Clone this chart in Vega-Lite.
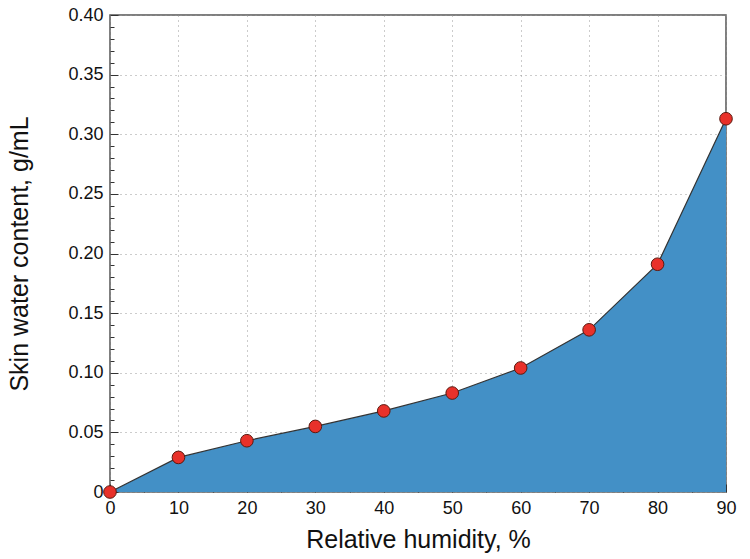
{
  "$schema": "https://vega.github.io/schema/vega-lite/v6.json",
  "autosize": {"type": "none"},
  "padding": {"left": 110, "top": 15, "right": 24, "bottom": 67},
  "width": 616,
  "height": 477,
  "config": {
    "font": "Liberation Sans",
    "view": {"stroke": "#555555", "strokeWidth": 1.5},
    "axis": {"labelFont": "Liberation Sans", "titleFont": "Liberation Sans", "labelColor": "#111", "titleColor": "#111"}
  },
  "data": {
    "values": [
      {"rh": 0, "water": 0},
      {"rh": 10, "water": 0.029},
      {"rh": 20, "water": 0.043},
      {"rh": 30, "water": 0.055},
      {"rh": 40, "water": 0.068},
      {"rh": 50, "water": 0.083},
      {"rh": 60, "water": 0.104},
      {"rh": 70, "water": 0.136},
      {"rh": 80, "water": 0.191},
      {"rh": 90, "water": 0.313}
    ]
  },
  "resolve": {"axis": {"x": "independent", "y": "independent"}},
  "layer": [
    {
      "mark": {"type": "area", "color": "#4390c6", "opacity": 1, "line": {"color": "#333333", "strokeWidth": 1.2}},
      "encoding": {
        "x": {"field": "rh", "type": "quantitative", "scale": {"domain": [0, 90], "nice": false},
          "axis": {"orient": "bottom", "values": [0, 10, 20, 30, 40, 50, 60, 70, 80, 90], "title": "Relative humidity, %",
            "titleFontSize": 25, "titleFontWeight": "normal", "titlePadding": 10, "labelFontSize": 18, "labelPadding": 15,
            "tickSize": -8, "tickColor": "#333", "domain": false, "grid": true, "gridDash": [1, 4], "gridColor": "#999", "labelFlush": false}},
        "y": {"field": "water", "type": "quantitative", "scale": {"domain": [0, 0.4], "nice": false},
          "axis": {"orient": "left", "values": [0, 0.05, 0.1, 0.15, 0.2, 0.25, 0.3, 0.35, 0.4], "title": "Skin water content, g/mL",
            "labelExpr": "datum.value == 0 ? '0' : format(datum.value, '.2f')",
            "titleFontSize": 25, "titleFontWeight": "normal", "titlePadding": 35, "labelFontSize": 18, "labelPadding": 15,
            "tickSize": -8, "tickColor": "#333", "domain": false, "grid": true, "gridDash": [1, 4], "gridColor": "#999", "labelFlush": false}}
      }
    },
    {
      "mark": {"type": "circle", "size": 160, "color": "#e8312a", "stroke": "#5a1a10", "strokeWidth": 1, "opacity": 1},
      "encoding": {
        "x": {"field": "rh", "type": "quantitative",
          "axis": {"orient": "bottom", "values": [5, 15, 25, 35, 45, 55, 65, 75, 85], "labels": false, "title": null,
            "tickSize": -4, "tickColor": "#333", "domain": false, "grid": false}},
        "y": {"field": "water", "type": "quantitative",
          "axis": {"orient": "left", "values": [0.01, 0.02, 0.03, 0.04, 0.06, 0.07, 0.08, 0.09, 0.11, 0.12, 0.13, 0.14, 0.16, 0.17, 0.18, 0.19, 0.21, 0.22, 0.23, 0.24, 0.26, 0.27, 0.28, 0.29, 0.31, 0.32, 0.33, 0.34, 0.36, 0.37, 0.38, 0.39], "labels": false, "title": null,
            "tickSize": -4, "tickColor": "#333", "domain": false, "grid": false}}
      }
    }
  ]
}
